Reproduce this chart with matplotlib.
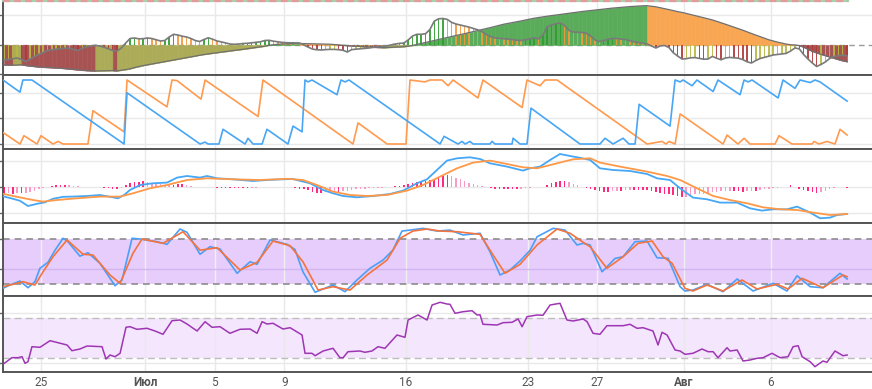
import numpy as np
import matplotlib
matplotlib.use("Agg")
import matplotlib.pyplot as plt
from matplotlib.lines import Line2D

# ---------------- data (time in days relative to 25 June, 6-hour bars) ----------------
T0 = -2.125
STEP = 0.25

osc_fast = [-15, -14.5, -13.8, -13, -14.5, -16.5, -14, -11.5, -9.5, -7.5,
            -5.5, -4.8, -4.2, -3.7, -3.2, -3.2, -4.5, -5.5, -3.5, -1.8,
            -1, -0.3, -1, -2.2, -3.8, -5.5, -6, -3, 2, 6.5,
            7, 6.2, 6.3, 7, 6.5, 5.2, 4, 4.5, 8, 10.7,
            10, 8.8, 8, 6.5, 4.5, 3.5, 5.5, 7.2, 5.8, 4,
            3.1, 2, 1, 0.7, 1, 1.5, 1.7, 2.2, 2.8, 3.2,
            4.5, 4.7, 3.8, 3.2, 2.6, 2.3, 2.2, 2.1, 2, 0,
            -2.2, -4.1, -4.8, -5, -4.6, -4.4, -4.4, -4.7, -5.3, -7,
            -4.6, -4.2, -3.8, -3.5, -3, -2.3, -1.7, -1.4, -1, 0,
            1, 1.6, 2, 5, 9, 10.7, 10.7, 11.3, 15.5, 23.8,
            26.2, 26.5, 25.6, 22.6, 21, 20, 19, 17.9, 16.6, 15.2,
            13.3, 10.5, 8.3, 7.1, 6.7, 6.3, 5.9, 5.4, 4.8, 4.5,
            5.4, 6.4, 7.1, 6.1, 10, 18.3, 20.1, 21.4, 22, 19.5,
            14.5, 13, 12.8, 12.5, 11.8, 9, 5, 3.5, 4.5, 5.8,
            6.6, 6.4, 5.9, 5.4, 4.2, 3.2, 2.5, 1.7, 1, -1,
            -3, -1, -0.5, -2.5, -7.7, -11, -14, -13.7, -12.8, -12.6,
            -13.4, -14.2, -14, -11.4, -13.2, -14.8, -13, -12.4, -12.8, -13.2,
            -14.6, -16.8, -18, -15.5, -13.5, -12.3, -11.2, -10, -9.5, -9,
            -8.4, -6, -3, -3.8, -9.5, -14, -18, -21.5, -19.5, -17,
            -13.5, -11.5, -10.8, -10.2, -10.8]

osc_slow = [-20, -20.1, -20.2, -20, -19.8, -20.5, -21, -21.5, -22, -22.3,
            -22.5, -22.7, -22.9, -23.2, -23.6, -24, -24.5, -24.9, -25.3, -25.6,
            -25.8, -26, -25.9, -25.8, -25.7, -25.6, -25.9, -25.3, -24.6, -23.8,
            -22.6, -21.6, -20.6, -19.8, -19, -18.2, -17.4, -16.6, -15.8, -15,
            -14.2, -13.4, -12.6, -11.8, -11, -10.1, -9.5, -8.9, -8.3, -7.7,
            -7.1, -6.6, -6, -5.4, -4.9, -4.3, -3.7, -3.1, -2.5, -1.9,
            -1.2, -0.2, 0.3, 0.7, 1, 1.3, 1.4, 1.5, 1.5, 1.4,
            1.3, 1.2, 1.1, 1, 0.9, 0.8, 0.5, 0.2, -0.2, -0.6,
            -0.9, -1.2, -1.4, -1.7, -2, -2.3, -2.5, -2.6, -2.6, -2.4,
            -2.2, -2, -1.7, -1.2, -0.4, 0.6, 1.5, 2.5, 3.5, 4.5,
            5.5, 6.5, 7.5, 8.5, 9.5, 10.4, 11.4, 12.4, 13.4, 14.4,
            15.4, 16.5, 17.5, 18.6, 19.8, 20.8, 21.6, 22.4, 23.3, 24.1,
            25, 25.9, 26.8, 27.5, 28.1, 28.8, 29.4, 30, 30.6, 31.2,
            31.9, 32.5, 33, 33.5, 34, 34.6, 35.1, 35.6, 36, 36.4,
            36.9, 37.3, 37.7, 38.1, 38.4, 38.7, 39, 39.2, 39.3, 38.8,
            38.2, 37.3, 36.3, 35.4, 34.4, 33.4, 32.6, 31.6, 30.5, 29.4,
            28.2, 27.1, 26, 25.1, 23.7, 22.2, 20.8, 19.3, 17.8, 16.4,
            14.8, 13.1, 11.5, 9.9, 8.3, 6.7, 5.2, 4, 2.9, 1.9,
            0.9, 0.3, 0, -0.5, -2.2, -4.3, -6.3, -7.9, -9.3, -10.7,
            -12, -13.3, -14.6, -15.8, -16.7]

macd_hist = [-6.5, -6, -6.5, -6, -6, -5.3, -4.7, -3.3, -2, -0.7,
             0.3, 1.3, 2.3, 2.5, 2.5, 2.3, 1.8, 1.3, 0.7, 0.7,
             0.7, 0.5, 0, -0.7, -1, -1.3, -1.3, -0.7, 2, 4.5,
             5.3, 5.8, 6.3, 5.7, 4.8, 3.8, 3.2, 2.7, 2.3, 2.5,
             3.1, 3.2, 2.5, 1.5, 0.8, 0.7, 0.5, 0, 0, -0.3,
             -0.3, -0.7, -1, -1, -1, -1, -1, -0.6, -0.3, 0,
             0.3, 0, 0, 0, 0, 0, 0, -0.8, -1.3, -2,
             -2.7, -4.3, -5.3, -5.3, -5, -4.7, -4.3, -4.3, -3.7, -3.3,
             -2.7, -2, -1.7, -1.3, -1, -0.7, -0.6, -0.3, 0, 0.5,
             1.3, 1.7, 2.3, 3, 4, 5.3, 6, 6.3, 7.3, 8.5,
             10, 11.5, 12.3, 11.5, 9.5, 8, 6.5, 4.8, 3.5, 2.2,
             1, 0, -0.7, -1.5, -2, -2, -2, -2, -2, -1.7,
             -1, -0.6, 0, 0, 0.7, 2.3, 4.5, 5.8, 6.5, 6.5,
             5.2, 3.7, 2, 0.5, -0.5, -1.2, -2.5, -3.7, -4.7, -4.7,
             -4, -3.3, -3.3, -3, -2.7, -2.7, -2.7, -2.7, -2.8, -3.3,
             -4.3, -5.5, -6.3, -6.8, -8, -9, -9.8, -9.5, -8.2, -7,
             -6.7, -6.2, -5.5, -4.8, -4.7, -4.1, -3.4, -3.3, -3.3, -3.6,
             -4.3, -4, -3.3, -3.3, -2.7, -1.8, -1.3, -1, -0.7, 0,
             0.7, 2.3, 0, -1.3, -2.7, -4, -5, -5.3, -4.7, -3.3,
             -1.3, -0.5, 0, 0, -0.5]

aroon_dn_t = [-2.19, -1.21, -1.04, -0.52, 4.78, 4.95, 9.15, 9.44, 9.61, 10.24, 10.47, 11.74,
              11.91, 12.20, 12.72, 13.00, 14.21, 14.50, 15.02, 15.19, 15.36, 15.59, 17.03,
              17.26, 17.49, 17.72, 22.96, 23.19, 23.99, 24.22, 24.40, 24.68, 24.86, 25.83,
              25.95, 26.12, 27.10, 27.16, 27.56, 27.96, 28.19, 31.01, 32.16, 32.45, 32.91,
              33.49, 33.83, 34.18, 34.41, 36.19, 36.48, 36.77, 36.94, 37.46, 37.74, 38.67,
              38.95, 40.22, 40.45, 40.68, 40.91, 42.41, 42.69, 43.38, 43.67, 44.25, 44.53,
              44.82, 46.38]
aroon_dn_v = [100, 81, 100, 100, 0, 80, 0, 3, 0, 0, 23, 0,
              9, 0, 0, 23, 0, 28, 19, 100, 97, 100, 77,
              100, 97, 100, 0, 12, 0, 4, 0, 4, 0, 0,
              4, 0, 0, 9, 0, 0, 56, 0, 0, 9, 0,
              9, 0, 0, 62, 28, 100, 97, 100, 91, 100, 82,
              100, 77, 100, 97, 100, 72, 100, 87, 100, 96, 100,
              97, 67]

aroon_up_t = [-2.19, -1.21, -0.98, -0.23, 0.0, 0.69, 0.98, 1.27, 2.70, 2.99, 4.78, 4.95,
              7.25, 7.54, 7.83, 9.21, 9.44, 12.49, 12.77, 17.95, 18.24, 19.91, 21.00,
              21.23, 22.09, 22.38, 23.07, 23.42, 23.71, 25.14, 25.43, 27.68, 27.96, 28.71,
              29.00, 29.69, 34.87, 35.73, 35.96, 36.13, 36.48, 36.77, 39.24, 39.47, 40.10,
              40.45, 40.79, 42.23, 42.46, 43.21, 44.36, 44.48, 44.76, 45.22, 45.68, 45.97,
              46.38]
aroon_up_v = [18, 0, 13, 0, 13, 0, 4, 0, 0, 52, 19, 100,
              58, 100, 99, 70, 100, 43, 100, 0, 33, 0, 0,
              100, 97, 100, 100, 91, 100, 72, 100, 57, 100, 91,
              100, 100, 0, 4, 0, 4, 0, 47, 0, 14, 0,
              9, 0, 0, 13, 0, 0, 4, 0, 4, 0, 23,
              14]

macd_t = [-2.19, -1.61, -1.21, -0.75, -0.23, 0.23, 0.69, 1.27, 1.84, 2.65, 3.39, 3.97, 4.43,
          4.78, 5.12, 5.70, 6.44, 7.25, 7.83, 8.40, 9.15, 9.55, 10.13, 11.05, 12.20, 13.00,
          13.92, 14.50, 14.90, 15.48, 16.23, 16.80, 17.38, 18.18, 19.10, 20.08, 20.83, 21.63,
          22.21, 22.78, 23.36, 23.94, 24.68, 25.26, 25.83, 26.81, 27.73, 28.14, 28.71, 29.29,
          29.86, 30.44, 31.01, 31.59, 32.16, 32.91, 33.89, 34.87, 35.44, 36.19, 36.77, 37.51,
          38.32, 39.07, 40.05, 40.79, 41.48, 42.12, 42.92, 43.50, 44.25, 44.82, 45.40, 45.80,
          46.38]
macd_v = [-9, -11.5, -13.5, -18.7, -16.5, -15, -11.5, -9.5, -9.3, -8.7, -7.7, -9.5, -11,
          -7.7, -2.7, 2.3, 4, 4.7, 9.7, 11.3, 9.7, 11.3, 9, 8, 6.3, 7.3,
          8, 8.3, 6.5, 4, -2.7, -6, -8.7, -10, -8.7, -6.7, -3.3, 4,
          8, 17.3, 26.7, 29, 30, 28.3, 24, 20.7, 16.7, 19, 20.7, 27.3,
          33.3, 31.3, 29.5, 27.3, 19, 17.3, 16.3, 13.3, 9, 7.3, -1, -10.3,
          -12, -15.3, -15.3, -21, -23.3, -22, -22, -19.3, -25.3, -31, -30.3, -27.7,
          -26.7]

signal_t = [-2.19, -1.38, -0.46, 0.12, 0.92, 2.07, 3.39, 4.55, 5.29, 6.27, 7.25, 8.40, 9.55,
            11.05, 12.60, 14.15, 15.07, 15.88, 16.80, 17.78, 18.76, 19.91, 21.06, 21.98, 22.96,
            23.94, 24.86, 25.83, 26.81, 27.73, 28.54, 29.69, 30.61, 31.59, 32.16, 33.31, 34.87,
            36.02, 36.77, 37.74, 38.67, 39.64, 40.62, 41.54, 42.52, 43.50, 44.42, 45.40, 46.38]
signal_v = [-6.5, -9.5, -12.7, -14.3, -12.7, -11, -9.3, -9.3, -6, -1, 2.3, 7.3, 9,
            8, 7.3, 8.5, 7.3, 2.3, -4.3, -7.7, -8.7, -7.7, -3.3, 2.3, 10.7,
            19, 24.7, 26.7, 23.3, 20, 19, 24, 28, 29, 24.7, 20.7, 15.7,
            11.3, 7.3, -1, -8.7, -12.7, -16, -20, -22, -22.7, -25.3, -27.7, -26.7]

stoch_k_t = [-2.19, -1.78, -1.21, -0.75, -0.35, -0.06, 0.40, 0.81, 1.27, 1.55, 2.24, 2.70, 3.39,
             4.26, 4.66, 5.24, 5.70, 6.67, 7.25, 8.00, 8.40, 9.15, 9.72, 10.30, 11.28, 12.03,
             12.43, 13.18, 14.15, 14.61, 15.07, 15.77, 16.23, 16.80, 17.49, 18.18, 18.93, 19.68,
             20.25, 20.77, 21.23, 21.98, 22.78, 23.53, 24.28, 25.26, 25.83, 26.41, 26.98, 27.56,
             28.14, 28.54, 29.46, 30.15, 30.84, 31.19, 31.59, 32.28, 33.03, 33.49, 34.18, 34.87,
             35.44, 36.08, 36.77, 37.05, 37.51, 38.32, 39.24, 40.05, 40.97, 42.12, 42.92, 43.50,
             44.25, 44.99, 45.97, 46.38]
stoch_k_v = [13.8, 18.3, 23.6, 14.6, 22.7, 40.7, 48.7, 65, 81, 76.4, 57, 61.6, 47.4,
             17.3, 25, 81, 80, 76.4, 72.9, 93.4, 89, 59.5, 69.7, 66.6, 34, 49.5,
             46, 78.7, 72.9, 66, 36, 8.5, 12.9, 18.3, 9.3, 25, 40.7, 51.8,
             65.2, 90.7, 92, 94.3, 90.7, 92, 85.4, 87.7, 63, 31.7, 38.4, 50.5,
             65, 83, 94.3, 92, 72, 74.2, 72, 36, 54, 56.2, 76.4, 77.3,
             54.9, 54, 16, 10.2, 11.5, 19.2, 9.3, 26.3, 10.2, 20.5, 10.2, 30.7,
             16, 14.6, 34, 26.3]

stoch_d_t = [-2.19, -1.61, -1.04, -0.35, 0.12, 0.69, 1.50, 2.42, 2.99, 3.97, 4.55, 5.29, 5.81,
             7.02, 8.17, 9.15, 10.13, 11.45, 12.43, 13.35, 14.33, 15.07, 15.94, 16.80, 17.78,
             18.76, 19.91, 20.66, 21.40, 22.21, 22.96, 23.94, 25.26, 26.01, 26.70, 27.56, 28.54,
             29.69, 30.44, 31.19, 31.59, 32.56, 33.49, 34.35, 35.16, 35.79, 36.31, 37.05, 37.51,
             38.32, 39.24, 40.33, 41.20, 42.35, 42.98, 43.79, 44.99, 46.14, 46.38]
stoch_d_v = [16, 19.2, 22.7, 18.3, 36, 56.2, 78.7, 59.5, 58.5, 31.7, 20.5, 60.8, 80,
             74.2, 89.8, 65, 68.3, 38.4, 48.7, 77.3, 71, 49.5, 11.5, 16, 11.5,
             31.7, 51.8, 81, 90.7, 93.4, 90.7, 89.8, 86.3, 58.5, 34, 46, 72,
             93.4, 87.7, 75.6, 69.7, 40.7, 56.2, 74.2, 77.3, 56.2, 47.4, 13.8, 10.2,
             18.3, 10.2, 25, 12.9, 19.2, 12.9, 27.2, 14.6, 31.7, 29.4]

rsi_t = [-2.19, -1.67, -1.32, -1.09, -0.92, -0.75, -0.52, -0.06, 0.52, 0.98, 1.50, 1.78, 2.24,
         2.65, 3.51, 3.74, 3.97, 4.26, 4.55, 4.89, 5.12, 5.52, 6.10, 6.56, 7.02, 7.54, 8.00,
         8.40, 8.98, 9.44, 9.84, 10.30, 10.87, 11.45, 12.03, 12.43, 12.72, 13.00, 13.35, 13.92,
         14.33, 15.02, 15.19, 15.59, 15.77, 16.23, 16.80, 17.20, 17.38, 17.66, 18.35, 18.64,
         19.04, 19.39, 19.79, 20.48, 20.94, 21.12, 21.69, 22.21, 22.50, 22.96, 23.36, 23.53,
         23.82, 24.28, 24.80, 25.09, 25.26, 25.43, 26.24, 26.58, 27.10, 27.45, 27.68, 27.96,
         28.54, 28.88, 29.29, 29.86, 30.26, 30.61, 31.19, 31.42, 31.76, 32.16, 32.56, 33.49,
         33.89, 34.29, 34.64, 35.21, 35.50, 35.73, 36.02, 36.48, 36.77, 37.05, 37.51, 38.03,
         38.38, 38.67, 38.95, 39.47, 39.64, 40.05, 40.39, 40.79, 41.20, 41.54, 42.06, 42.52,
         42.98, 43.27, 43.56, 43.79, 44.25, 44.53, 44.99, 45.22, 45.68, 46.14, 46.38]
rsi_v = [24, 30.6, 30.6, 31.6, 25, 26.6, 41.6, 41, 47.6, 45.6, 43.3, 37.6, 39.3,
         42.3, 41.6, 29.3, 33.3, 31.6, 35, 61, 61.6, 59, 60, 57.3, 54, 67.6, 68.3,
         64.3, 57.3, 66.6, 61, 61.6, 55, 59, 59.3, 55, 66.6, 64.3, 65, 59.3,
         60.6, 53.3, 35, 35, 32.6, 37.3, 40, 30.6, 30.6, 36.6, 37.3, 36,
         37.3, 41.6, 40, 53.3, 51, 68.3, 73.3, 68.3, 83.3, 86, 84.3, 84,
         75, 76.6, 77.6, 73.3, 73.5, 64, 63.3, 65.6, 66, 69.3, 61.6, 71.6,
         73.3, 73, 83.3, 85, 68.3, 67.3, 69.3, 66.6, 55, 54, 62.6, 62.6,
         64, 60, 60.6, 57.3, 43.3, 56, 53.3, 38.3, 37.3, 34, 35, 39.3,
         36.6, 36.6, 30.6, 40.6, 37.3, 38.3, 27.3, 28.3, 30, 30.6, 35, 30.6,
         31.6, 41.6, 42.6, 31.6, 26.6, 21.6, 27.3, 26, 37.3, 32.6, 33.3]

tick_pos = [0, 6, 10, 14, 21, 28, 32, 37, 42]
tick_lbl = ["25", "Июл", "5", "9", "16", "23", "27", "Авг", "6"]
tick_bold = ["Июл", "Авг"]

# ---------------- figure ----------------
W, H = 872, 389
fig = plt.figure(figsize=(W / 100, H / 100), dpi=100, facecolor="white")
XMIN, XMAX = -2.186, 47.81
EDGE = "#555555"
GRID = "#e9e9e9"


def panel(top_px, bot_px):
    return fig.add_axes([3 / W, 1 - bot_px / H, 869 / W, (bot_px - top_px) / H])


def style(ax, ylim, yticks, bottom=False):
    ax.set_xlim(XMIN, XMAX)
    ax.set_ylim(*ylim)
    ax.set_yticks(yticks)
    ax.set_yticklabels([])
    ax.set_xticks(tick_pos)
    ax.tick_params(axis="y", length=3, width=1, color="#666666", direction="out")
    ax.tick_params(axis="x", length=0)
    ax.spines["right"].set_visible(False)
    for s in ["left", "top", "bottom"]:
        ax.spines[s].set_color(EDGE)
        ax.spines[s].set_linewidth(1.4)
    for p in tick_pos:
        ax.axvline(p, color=GRID, lw=1, zorder=0.2)
    if bottom:
        ax.set_xticklabels(tick_lbl, fontsize=8.5, color="#555555", family="Roboto")
        ax.tick_params(axis="x", pad=3)
        for lab in ax.get_xticklabels():
            if lab.get_text() in tick_bold:
                lab.set_fontweight("bold")
    else:
        ax.set_xticklabels([])


# ---- panel 1: oscillator with coloured areas and striped histogram ----
ax1 = panel(3, 75)
style(ax1, (-30, 42), [-29, 0, 30])
ax1.spines["top"].set_visible(False)
F = np.array(osc_fast)
S = np.array(osc_slow)
t = T0 + STEP * np.arange(len(F))
ax1.axhline(30, color=GRID, lw=1, zorder=0.2)
ax1.axhline(0, color="#9a9a9a", lw=1, ls=(0, (4, 3)), zorder=0.3)
for i in range(1, len(S)):
    up = S[i] >= S[i - 1]
    if S[i] >= 0:
        c = "#5aac5a" if up else "#f9a653"
    else:
        c = "#acab57" if up else "#a85353"
    ax1.fill_between(t[i - 1:i + 1], 0, S[i - 1:i + 1], color=c, lw=0.4, edgecolor=c, zorder=1)
bar_cols = []
for i in range(len(F)):
    up = F[i] >= F[i - 1] if i > 0 else True
    if F[i] >= 0:
        bar_cols.append("#2f9d2f" if up else "#f39a3e")
    else:
        bar_cols.append("#b8b845" if up else "#b03838")
ax1.bar(t, F, width=0.085, color=bar_cols, lw=0, alpha=0.9, zorder=2)
ax1.plot(t, S, color="#6f6f6f", lw=0.9, zorder=3)
ax1.plot(t, F, color="#7a7a7a", lw=1.2, zorder=3)
fig.add_artist(Line2D([3 / W, 848 / W], [1 - 1.2 / H] * 2, transform=fig.transFigure,
                      color="#a8cfae", lw=1.6))
fig.add_artist(Line2D([3 / W, 848 / W], [1 - 1.2 / H] * 2, transform=fig.transFigure,
                      color="#e49a9a", lw=1.6, ls=(0, (3, 2))))

# ---- panel 2: aroon ----
ax2 = panel(75, 149)
style(ax2, (-7.8, 107.8), [0, 40, 80])
for v in [0, 40, 80]:
    ax2.axhline(v, color=GRID, lw=1, zorder=0.2)
ax2.plot(aroon_up_t, aroon_up_v, color="#ff9a4f", lw=1.2, zorder=3)
ax2.plot(aroon_dn_t, aroon_dn_v, color="#48a6f4", lw=1.2, zorder=3)

# ---- panel 3: macd ----
ax3 = panel(149, 223)
style(ax3, (-35.7, 38.3), [-26, 0, 26])
for v in [-26, 0, 26]:
    ax3.axhline(v, color=GRID, lw=1, zorder=0.2)
h = np.array(macd_hist)
th = T0 + STEP * np.arange(len(h))
hcols = []
for i in range(len(h)):
    grow = abs(h[i]) >= abs(h[i - 1]) if i > 0 else True
    hcols.append("#ff2a7f" if grow else "#f79cc4")
ax3.bar(th, h, width=0.09, color=hcols, lw=0, zorder=2)
ax3.plot(macd_t, macd_v, color="#45a7f5", lw=1.3, zorder=3)
ax3.plot(signal_t, signal_v, color="#ff9847", lw=1.3, zorder=3)

# ---- panel 4: stochastic ----
ax4 = panel(223, 296)
style(ax4, (3.5, 101.5), [40, 80])
ax4.fill_between([XMIN, XMAX], 20, 80, color="#e6cdfb", lw=0, zorder=0.1)
for p in tick_pos:
    ax4.axvline(p, color="#ffffff", lw=1, alpha=0.35, zorder=0.3)
ax4.axhline(40, color="#d3b6ef", lw=1, zorder=0.4)
for v in [20, 80]:
    ax4.axhline(v, color="#8c8c8c", lw=1.2, ls=(0, (4, 3)), zorder=0.5)
ax4.plot(stoch_k_t, stoch_k_v, color="#4b9ff7", lw=1.2, zorder=3)
ax4.plot(stoch_d_t, stoch_d_v, color="#f5733c", lw=1.2, zorder=3)

# ---- panel 5: rsi ----
ax5 = panel(296, 372)
style(ax5, (16.3, 92.3), [25, 75], bottom=True)
for v in [25, 75]:
    ax5.axhline(v, color=GRID, lw=1, zorder=0.2)
ax5.fill_between([XMIN, XMAX], 30, 70, color="#f4e6fd", lw=0, zorder=0.1)
for v in [30, 70]:
    ax5.axhline(v, color="#bdbdbd", lw=1, ls=(0, (5, 3)), zorder=0.5)
ax5.plot(rsi_t, rsi_v, color="#9e36b4", lw=1.1, zorder=3)

fig.savefig("out.png", dpi=100, facecolor="white")
